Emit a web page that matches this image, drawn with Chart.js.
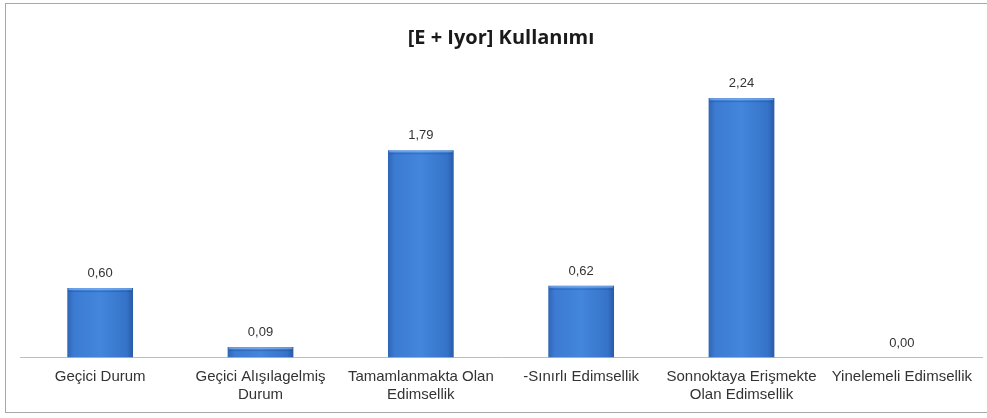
<!DOCTYPE html>
<html>
<head>
<meta charset="utf-8">
<script src="https://cdn.jsdelivr.net/npm/chart.js@4/dist/chart.umd.min.js"></script>
<style>
  html, body { margin: 0; padding: 0; background: #fff; overflow: hidden; }
  .frame {
    position: absolute; left: 5px; top: 3px; width: 990px; height: 410px;
    border: 1px solid #a8a8a8; box-sizing: border-box;
  }
  .wrap { position: absolute; left: 0; top: 0; width: 987px; height: 418px; }
</style>
</head>
<body>
<div class="frame"></div>
<div class="wrap"><canvas id="chart"></canvas></div>
<script>
// data
const chartTitle = '[E + Iyor] Kullanımı';
const categories = [
  'Geçici Durum',
  ['Geçici Alışılagelmiş', 'Durum'],
  ['Tamamlanmakta Olan', 'Edimsellik'],
  '-Sınırlı Edimsellik',
  ['Sonnoktaya Erişmekte', 'Olan Edimsellik'],
  'Yinelemeli Edimsellik'
];
const usageValues = [0.60, 0.09, 1.79, 0.62, 2.24, 0.00];

// utils
function formatComma(v) {
  return v.toFixed(2).replace('.', ',');
}

function barGradient(context) {
  const chart = context.chart;
  const scale = chart.scales.x;
  if (!chart.chartArea || !scale) return '#3d7fd6';
  const meta = chart.getDatasetMeta(context.datasetIndex);
  const bar = meta.data[context.dataIndex];
  const cx = scale.getPixelForValue(context.dataIndex);
  const half = bar && bar.width ? bar.width / 2 : 33;
  const g = chart.ctx.createLinearGradient(cx - half, 0, cx + half, 0);
  g.addColorStop(0, '#2f64b4');
  g.addColorStop(0.1, '#3c7bd2');
  g.addColorStop(0.5, '#4386dc');
  g.addColorStop(0.9, '#3573c8');
  g.addColorStop(1, '#2a5aa6');
  return g;
}

// value labels above each bar
const valueLabels = {
  id: 'valueLabels',
  afterDatasetsDraw(chart) {
    const ctx = chart.ctx;
    const meta = chart.getDatasetMeta(0);
    ctx.save();
    ctx.font = '13px "Liberation Sans", Arial, sans-serif';
    ctx.fillStyle = '#333';
    ctx.textAlign = 'center';
    ctx.textBaseline = 'bottom';
    meta.data.forEach((bar, i) => {
      ctx.fillText(formatComma(usageValues[i]), bar.x, bar.y - 8);
    });
    ctx.restore();
  }
};

// light top edge on the bars
const barHighlight = {
  id: 'barHighlight',
  afterDatasetsDraw(chart) {
    const ctx = chart.ctx;
    const meta = chart.getDatasetMeta(0);
    ctx.save();
    meta.data.forEach((bar, i) => {
      if (!usageValues[i]) return;
      const left = bar.x - bar.width / 2;
      ctx.fillStyle = 'rgba(150,190,240,0.55)';
      ctx.fillRect(left + 1, bar.y, bar.width - 2, 2);
      ctx.fillStyle = 'rgba(30,70,140,0.35)';
      ctx.fillRect(left + 1, bar.y + 3, bar.width - 2, 1);
    });
    ctx.restore();
  }
};

new Chart(document.getElementById('chart'), {
  type: 'bar',
  data: {
    labels: categories,
    datasets: [{
      data: usageValues,
      backgroundColor: barGradient,
      borderWidth: 0,
      barPercentage: 0.41,
      categoryPercentage: 1
    }]
  },
  options: {
    responsive: true,
    maintainAspectRatio: false,
    animation: false,
    layout: { padding: { left: 20, right: 5, top: 0, bottom: 4 } },
    plugins: {
      legend: { display: false },
      tooltip: { enabled: false },
      title: {
        display: true,
        text: chartTitle,
        color: '#1a1a1a',
        font: { family: '"Open Sans", sans-serif', size: 20, weight: 'bold' },
        padding: { top: 26, bottom: 18 }
      }
    },
    scales: {
      x: {
        grid: { display: false, drawTicks: false },
        border: { display: true, color: '#bdbdbd', width: 1 },
        ticks: {
          color: '#333',
          padding: 11,
          maxRotation: 0,
          autoSkip: false,
          font: { family: '"Liberation Sans", Arial, sans-serif', size: 15, lineHeight: 1.15 }
        }
      },
      y: {
        display: false,
        min: 0,
        max: 2.5
      }
    }
  },
  plugins: [valueLabels, barHighlight]
});
</script>
</body>
</html>
